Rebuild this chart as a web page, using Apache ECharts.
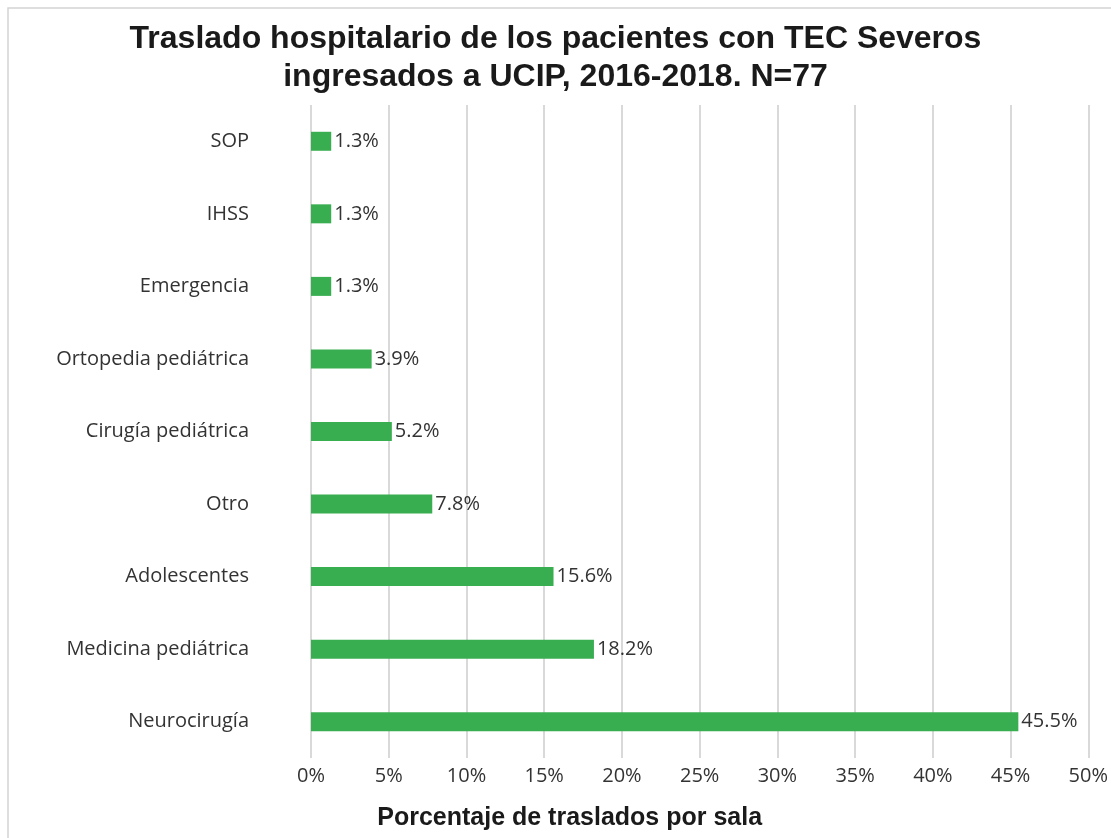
<!DOCTYPE html>
<html>
<head>
<meta charset="utf-8">
<script src="https://cdn.jsdelivr.net/npm/echarts@6/dist/echarts.min.js"></script>
<style>
    body { margin: 0; background: #fff; }
    #chart { width: 1111px; height: 838px; }
</style>
</head>
<body>
<div id="chart"></div>
<script>
    // salas, de arriba hacia abajo
    var salas = ['SOP', 'IHSS', 'Emergencia', 'Ortopedia pediátrica', 'Cirugía pediátrica',
        'Otro', 'Adolescentes', 'Medicina pediátrica', 'Neurocirugía'];
    // porcentaje de traslados (%)
    var porcentajes = [1.3, 1.3, 1.3, 3.9, 5.2, 7.8, 15.6, 18.2, 45.5];
    var ticksX = [0, 5, 10, 15, 20, 25, 30, 35, 40, 45, 50];

    var myChart = echarts.init(document.getElementById('chart'));

    var option = {
        backgroundColor: '#fff',
        graphic: [{
            type: 'rect',
            shape: { x: 8, y: 8, width: 1110, height: 840 },
            style: { fill: 'none', stroke: '#d4d4d4', lineWidth: 1.5 },
            silent: true
        }],
        title: {
            text: 'Traslado hospitalario de los pacientes con TEC Severos\ningresados a UCIP, 2016-2018. N=77',
            left: 'center',
            top: 15,
            textStyle: {
                fontFamily: 'Liberation Sans',
                fontWeight: 'bold',
                fontSize: 32,
                lineHeight: 38,
                color: '#1a1a1a'
            }
        },
        grid: {
            left: 311,
            right: 13,
            top: 105,
            bottom: 80
        },
        xAxis: {
            type: 'value',
            min: 0,
            max: 50,
            interval: 5,
            name: 'Porcentaje de traslados por sala',
            nameLocation: 'middle',
            nameGap: 48,
            nameTextStyle: {
                fontFamily: 'Liberation Sans',
                fontWeight: 'bold',
                fontSize: 25,
                color: '#1a1a1a',
                padding: [0, 0, 0, -260]
            },
            axisLine: { show: false },
            axisTick: { show: false },
            axisLabel: {
                fontFamily: 'Open Sans',
                fontSize: 20,
                color: '#333',
                margin: 8,
                formatter: function (v) { return ticksX.indexOf(v) >= 0 ? v + '%' : ''; }
            },
            splitLine: { lineStyle: { color: '#d9d9d9', width: 2 } }
        },
        yAxis: {
            type: 'category',
            data: salas,
            inverse: true,
            axisLine: { show: false },
            axisTick: { show: false },
            axisLabel: {
                fontFamily: 'Open Sans',
                fontSize: 20,
                color: '#333',
                margin: 62
            }
        },
        series: [{
            name: 'Traslados',
            type: 'bar',
            data: porcentajes,
            barWidth: 19,
            itemStyle: { color: '#38ae50' },
            label: {
                show: true,
                position: 'right',
                distance: 3,
                fontFamily: 'Open Sans',
                fontSize: 20,
                color: '#333',
                formatter: function (p) { return p.value.toFixed(1) + '%'; }
            }
        }]
    };

    myChart.setOption(option);
</script>
</body>
</html>
